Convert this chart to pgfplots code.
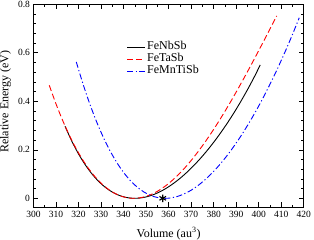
\documentclass[border=0pt]{standalone}
\usepackage{fontspec}
\setmainfont{Liberation Serif}
\usepackage{pgfplots}
\pgfplotsset{compat=1.18}
\begin{document}
\begin{tikzpicture}
\useasboundingbox (-33.5pt,-32.7pt) rectangle (280.5pt,207.3pt);
\begin{axis}[
  at={(0pt,0pt)}, anchor=south west,
  scale only axis, width=270.2pt, height=203pt,
  xmin=300, xmax=420, ymin=-0.037, ymax=0.8,
  xtick={300,310,...,420}, minor x tick num=1,
  ytick={0,0.2,0.4,0.6,0.8}, minor y tick num=4,
  tick align=inside, xtick pos=both, ytick pos=both,
  xticklabel pos=bottom, yticklabel pos=left,
  major tick length=5pt, minor tick length=2.7pt,
  tick style={black, line width=0.6pt},
  axis line style={line width=0.8pt},
  font=\fontsize{9.5}{11}\selectfont,
  /pgf/number format/assume math mode=true,
  yticklabel style={/pgf/number format/.cd, fixed, precision=1},
  xticklabel style={/pgf/number format/1000 sep={}},
  xlabel={Volume (au\textsuperscript{3})},
  ylabel={Relative Energy (eV)},
  label style={font=\fontsize{12}{14}\selectfont},
  xlabel style={at={(axis description cs:0.5,0)}, anchor=base, yshift=-30pt},
  ylabel style={at={([xshift=-28pt]axis description cs:0,0.52)}, anchor=center},
  legend style={draw=none, fill=none, at={(axis cs:340,0.657)}, anchor=north west,
    font=\fontsize{12}{14}\selectfont, row sep=0pt,
    nodes={inner xsep=1.5pt, inner ysep=0pt, text height=8pt, text depth=4pt}},
  legend cell align=left,
  legend image code/.code={\draw[#1] (0pt,0pt) -- (8pt,0pt); \path (0pt,0pt) -- (18pt,0pt);},
]
\addplot[black, line width=0.9pt, smooth] coordinates {
(314,0.2971) (317,0.2359) (320,0.1830) (323,0.1380) (326,0.1002) (329,0.0692)
(332,0.0445) (335,0.0257) (338,0.0123) (341,0.0039) (344,0.0002) (347,0.0009)
(350,0.0057) (353,0.0142) (356,0.0263) (359,0.0417) (362,0.0603) (365,0.0818)
(368,0.1062) (371,0.1334) (374,0.1632) (377,0.1957) (380,0.2308) (383,0.2686)
(386,0.3090) (389,0.3522) (392,0.3983) (395,0.4473) (398,0.4995) (400.7,0.5500)
};
\addlegendentry{FeNbSb}
\addplot[red, line width=0.9pt, smooth, dash pattern=on 6pt off 3pt] coordinates {
(307,0.4661) (310,0.3892) (313,0.3200) (316,0.2584) (319,0.2039) (322,0.1565)
(325,0.1159) (328,0.0818) (331,0.0539) (334,0.0321) (337,0.0162) (340,0.0057)
(343,0.0006) (346,0.0006) (349,0.0055) (352,0.0149) (355,0.0288) (358,0.0468)
(361,0.0688) (364,0.0944) (367,0.1235) (370,0.1559) (373,0.1912) (376,0.2294)
(379,0.2701) (382,0.3132) (385,0.3584) (388,0.4055) (391,0.4543) (394,0.5046)
(397,0.5561) (400,0.6086) (403,0.6620) (406,0.7160) (408,0.7521)
};
\addlegendentry{FeTaSb}
\addplot[blue, line width=0.9pt, smooth, dash pattern=on 6pt off 2.5pt on 1.2pt off 2.5pt] coordinates {
(319,0.5624) (322,0.4711) (325,0.3891) (328,0.3161) (331,0.2518) (334,0.1957)
(337,0.1476) (340,0.1069) (343,0.0734) (346,0.0467) (349,0.0263) (352,0.0120)
(355,0.0034) (358.5,0.0000) (361,0.0017) (364,0.0079) (367,0.0186) (370,0.0334)
(373,0.0523) (376,0.0751) (379,0.1014) (382,0.1314) (385,0.1648) (388,0.2015)
(391,0.2414) (394,0.2846) (397,0.3309) (400,0.3803) (403,0.4329) (406,0.4886)
(409,0.5476) (412,0.6097) (415,0.6752) (418,0.7442)
};
\addlegendentry{FeMnTiSb}
\addplot[only marks, mark=asterisk, mark size=3.8pt, line width=1.1pt, black, forget plot] coordinates {(357.4,0)};
\end{axis}
\end{tikzpicture}
\end{document}
